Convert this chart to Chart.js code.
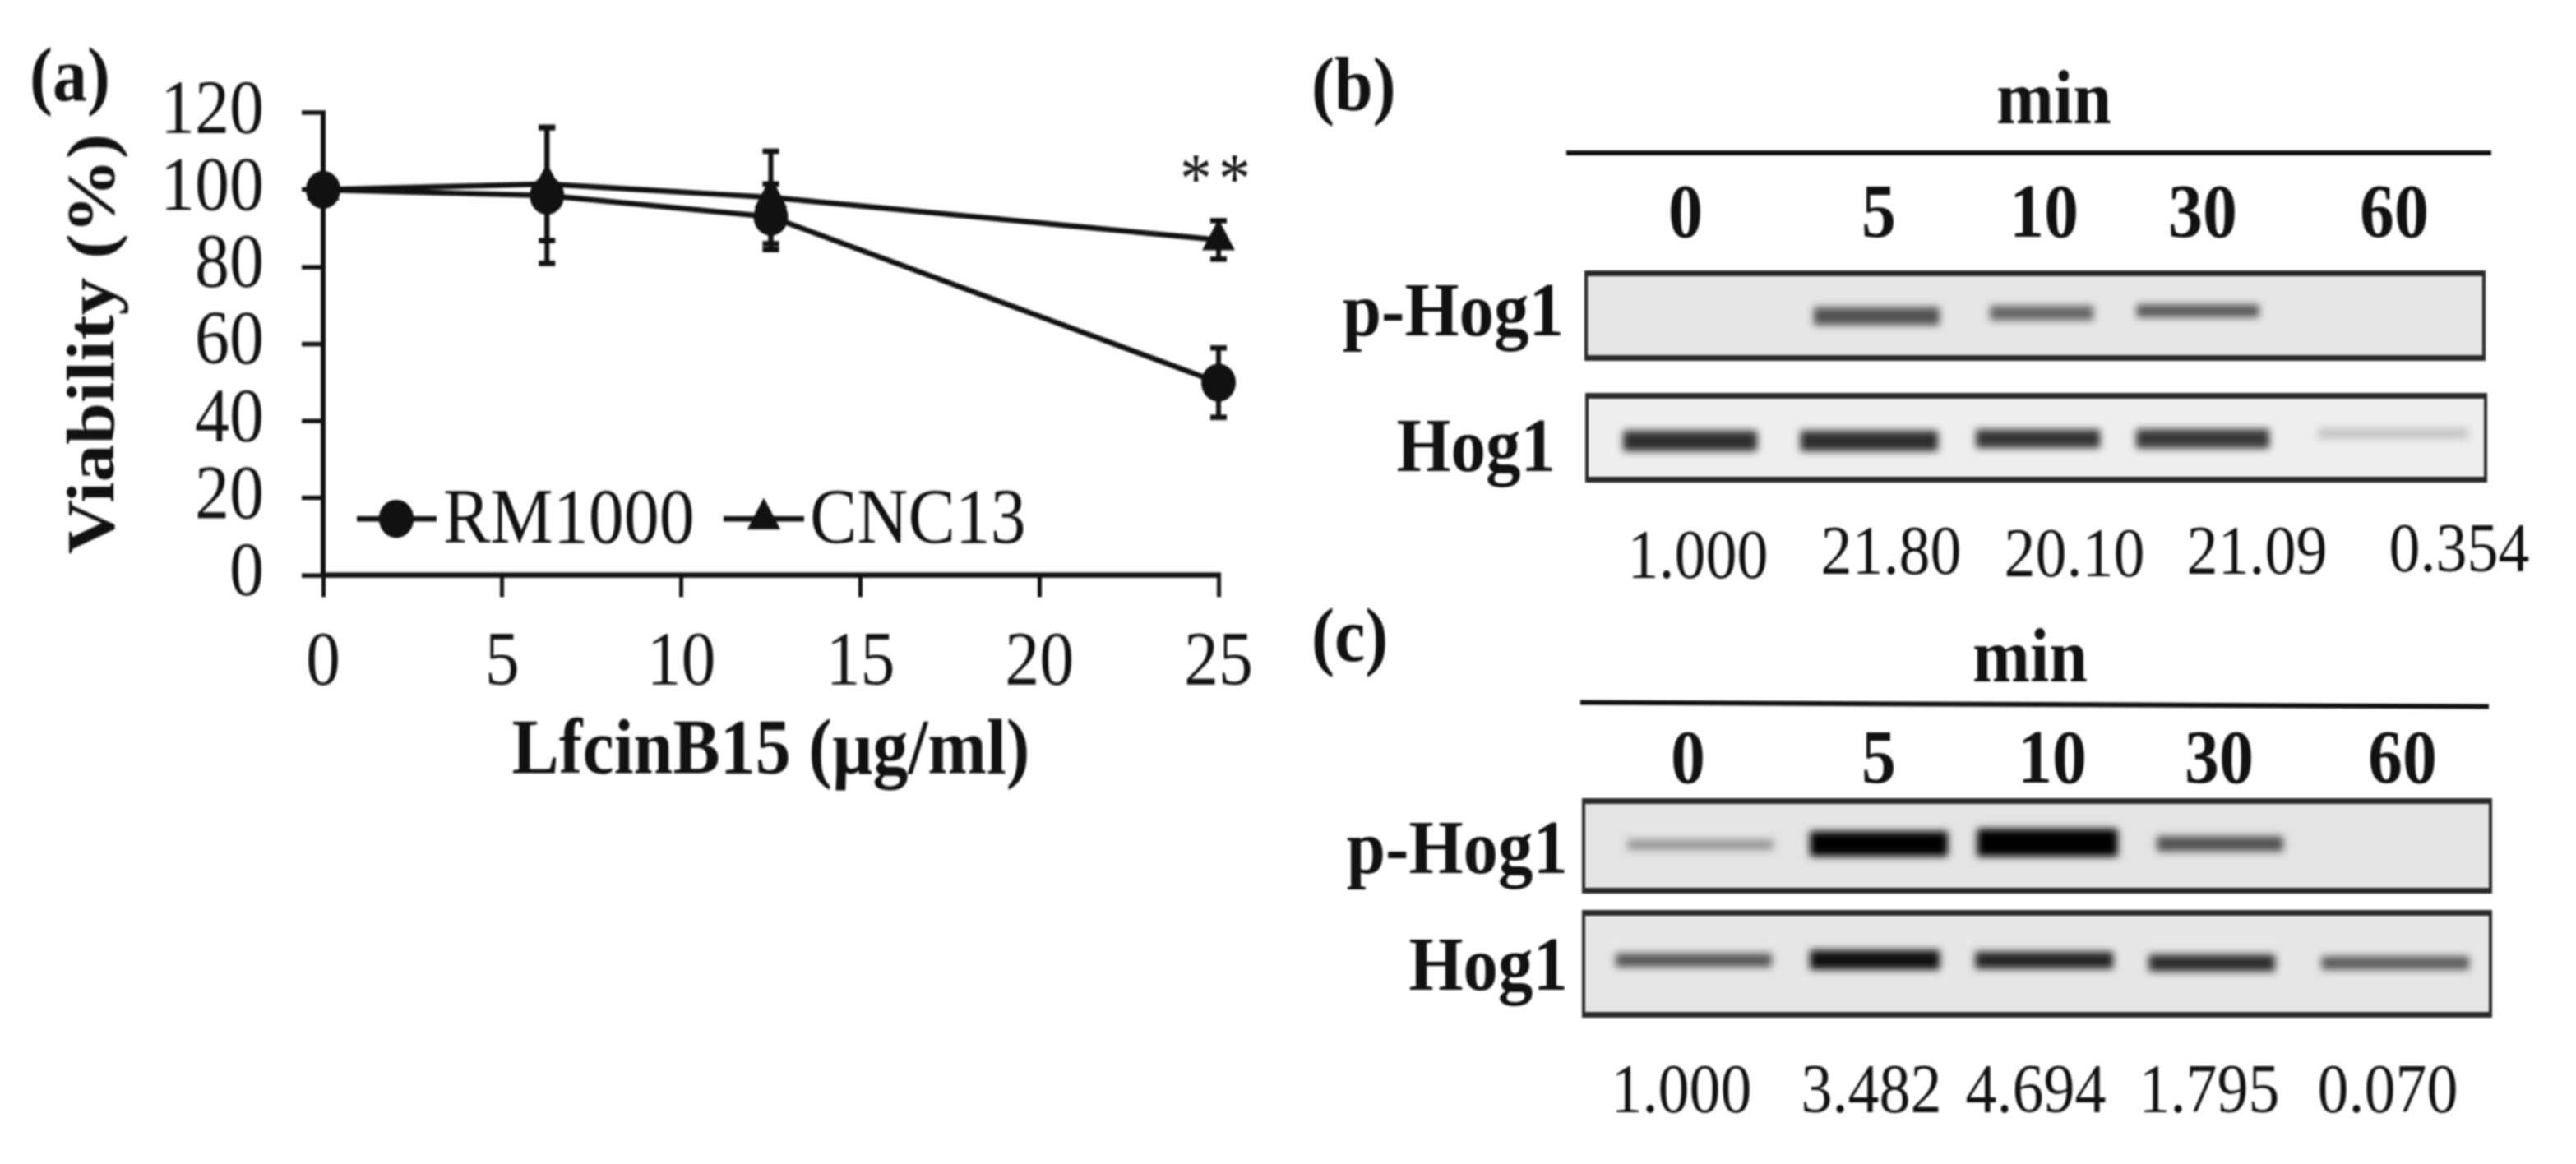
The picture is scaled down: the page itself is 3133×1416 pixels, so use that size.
<!DOCTYPE html>
<html>
<head>
<meta charset="utf-8">
<script src="https://cdn.jsdelivr.net/npm/chart.js@4"></script>
<style>
  html, body { margin: 0; background: #fff; }
  #page { position: relative; width: 3133px; height: 1416px; overflow: hidden; filter: blur(1.2px); }
  .txt { position: absolute; white-space: pre; font-family: "Liberation Serif", serif; color: #111; line-height: 1.149; }
  .rule { position: absolute; background: #111; height: 6px; }
  .blot { position: absolute; box-sizing: border-box; overflow: hidden; border: solid #2a2a2a; border-width: 7px 4px; }
  .blot canvas { display: block; filter: blur(5px); }
  #chartA { position: absolute; left: 0; top: 0; transform: scaleY(1.1); transform-origin: 0 0; }
</style>
</head>
<body>
<div id="page"><canvas id="chartA" width="1590" height="909"></canvas></div>
<script>
const FONT = '"Liberation Serif", serif';
const K = 1.1; // the original figure is stretched vertically

// panel (a)
const doses = [0, 6.25, 12.5, 25];
const rm1000 = [100, 98.5, 93, 50];
const rm1000Err = [1, 17.6, 8.5, 9];
const cnc13 = [100, 101.5, 98, 87];
const cnc13Err = [1, 14.7, 12, 5];

// blots: lane labels and densitometry ratios
const lanes = ['0', '5', '10', '30', '60'];
const ratiosB = ['1.000', '21.80', '20.10', '21.09', '0.354'];
const ratiosC = ['1.000', '3.482', '4.694', '1.795', '0.070'];

const b1Start = [25.3, 45, 61.4];
const b1End = [39.3, 56.5, 75];
const b1Y = [51, 45, 41];
const b1Grey = [80, 100, 85];

const b2Start = [3.9, 23.7, 43.3, 61.2, 81.5];
const b2End = [18.8, 39, 57.1, 76, 98.2];
const b2Y = [56, 56, 52, 52, 42];
const b2Grey = [45, 45, 50, 55, 195];

const c1Start = [4.7, 24.9, 43.4, 63.3];
const c1End = [20.8, 40.1, 58.9, 77.2];
const c1Y = [48, 46.3, 44.4, 46.3];
const c1Grey = [150, 0, 0, 80];

const c2Start = [3.4, 24.9, 43.2, 62.4, 81.5];
const c2End = [20.6, 39.2, 58.4, 76.3, 97.8];
const c2Y = [45.5, 45, 45.5, 49, 49];
const c2Grey = [85, 15, 35, 45, 90];

const page = document.getElementById('page');

function label(text, x, baseline, size, opts = {}) {
  const el = document.createElement('div');
  el.className = 'txt';
  el.textContent = text;
  el.style.fontSize = size + 'px';
  el.style.fontWeight = opts.bold ? 'bold' : 'normal';
  el.style.top = (baseline - 0.891 * size) + 'px';
  const align = opts.align || 'center';
  el.style.left = x + 'px';
  el.style.transformOrigin = '0 0.891em';
  const shift = align === 'center' ? 'translateX(-50%) ' : align === 'right' ? 'translateX(-100%) ' : '';
  el.style.transform = shift + 'scaleY(' + K + ')';
  page.appendChild(el);
}

const errorBars = {
  id: 'errorBars',
  beforeDatasetsDraw(chart) {
    const { ctx, scales: { x, y } } = chart;
    const sets = [[rm1000, rm1000Err], [cnc13, cnc13Err]];
    ctx.save();
    ctx.strokeStyle = '#111';
    ctx.lineWidth = 6;
    sets.forEach(([vals, errs]) => {
      doses.forEach((d, i) => {
        const px = x.getPixelForValue(d);
        const top = y.getPixelForValue(vals[i] + errs[i]);
        const bot = y.getPixelForValue(vals[i] - errs[i]);
        ctx.beginPath();
        ctx.moveTo(px, top); ctx.lineTo(px, bot);
        ctx.moveTo(px - 10, top); ctx.lineTo(px + 10, top);
        ctx.moveTo(px - 10, bot); ctx.lineTo(px + 10, bot);
        ctx.stroke();
      });
    });
    ctx.restore();
  },
};

const legendAndStars = {
  id: 'legendAndStars',
  afterDraw(chart) {
    const { ctx, scales: { x, y } } = chart;
    ctx.save();
    ctx.fillStyle = '#111';
    ctx.strokeStyle = '#111';
    ctx.textBaseline = 'alphabetic';
    ctx.textAlign = 'left';
    ctx.font = '86px ' + FONT;
    const rows = [
      { x0: 434, x1: 531, cx: 482, tx: 539, ds: chart.data.datasets[0] },
      { x0: 880, x1: 978, cx: 929, tx: 985, ds: chart.data.datasets[1] },
    ];
    rows.forEach((r) => {
      ctx.lineWidth = 6;
      ctx.beginPath();
      ctx.moveTo(r.x0, 631 / K); ctx.lineTo(r.x1, 631 / K);
      ctx.stroke();
      Chart.helpers.drawPoint(ctx, { pointStyle: r.ds.pointStyle, radius: r.ds.pointRadius, borderWidth: 0, rotation: 0 }, r.cx, 631 / K);
      ctx.fill();
      ctx.fillText(r.ds.label, r.tx, 660 / K);
    });
    ctx.textAlign = 'center';
    ctx.font = '78px ' + FONT;
    ctx.letterSpacing = '8px';
    ctx.fillText('**', x.getPixelForValue(25), y.getPixelForValue(97));
    ctx.letterSpacing = '0px';
    ctx.textAlign = 'left';
    ctx.font = 'bold 84px ' + FONT;
    ctx.fillText('(a)', 36, 122 / K);
    ctx.restore();
  },
};

new Chart(document.getElementById('chartA'), {
  type: 'line',
  data: {
    labels: doses,
    datasets: [
      { label: 'RM1000', data: doses.map((d, i) => ({ x: d, y: rm1000[i] })), borderColor: '#111', backgroundColor: '#111', borderWidth: 6, pointStyle: 'circle', pointRadius: 21, pointBorderWidth: 0, tension: 0, clip: false },
      { label: 'CNC13', data: doses.map((d, i) => ({ x: d, y: cnc13[i] })), borderColor: '#111', backgroundColor: '#111', borderWidth: 6, pointStyle: 'triangle', pointRadius: 23, pointBorderWidth: 0, tension: 0, clip: false },
    ],
  },
  options: {
    responsive: false,
    animation: false,
    layout: { padding: { top: 137 / K, right: 108, bottom: 0, left: 0 } },
    plugins: { legend: { display: false }, tooltip: { enabled: false } },
    scales: {
      x: {
        type: 'linear', min: 0, max: 25,
        afterFit: (s) => { s.height = 300 / K; },
        border: { color: '#111', width: 6 },
        grid: { drawOnChartArea: false, color: '#111', lineWidth: 5, tickLength: 24 },
        ticks: { stepSize: 5, color: '#111', padding: 24, maxRotation: 0, font: { family: FONT, size: 84 } },
        title: { display: true, text: 'LfcinB15 (µg/ml)', color: '#111', padding: { top: 0, bottom: 25 }, font: { family: FONT, size: 86, weight: 'bold' } },
      },
      y: {
        min: 0, max: 120,
        afterFit: (s) => { s.width = 393; },
        border: { color: '#111', width: 6 },
        grid: { drawOnChartArea: false, color: '#111', lineWidth: 5, tickLength: 26 },
        ticks: { stepSize: 20, autoSkip: false, color: '#111', padding: 46, font: { family: FONT, size: 84 } },
        title: { display: true, text: 'Viability (%)', color: '#111', padding: { top: 67, bottom: 0 }, font: { family: FONT, size: 83, weight: 'bold' } },
      },
    },
  },
  plugins: [errorBars, legendAndStars],
});

function blot(left, top, width, height, bg, starts, ends, ys, greys, thick) {
  const wrap = document.createElement('div');
  wrap.className = 'blot';
  wrap.style.cssText = `left:${left}px;top:${top}px;width:${width}px;height:${height}px;background:${bg}`;
  const cv = document.createElement('canvas');
  cv.width = width - 8;
  cv.height = height - 14;
  wrap.appendChild(cv);
  page.appendChild(wrap);
  new Chart(cv, {
    type: 'bar',
    data: {
      datasets: starts.map((s, i) => ({
        data: [{ x: [s, ends[i]], y: ys[i] }],
        backgroundColor: `rgb(${greys[i]},${greys[i]},${greys[i]})`,
        barThickness: thick[i],
        grouped: false,
      })),
    },
    options: {
      indexAxis: 'y',
      responsive: false,
      animation: false,
      plugins: { legend: { display: false }, tooltip: { enabled: false } },
      scales: {
        x: { type: 'linear', min: 0, max: 100, display: false },
        y: { type: 'linear', min: 0, max: 100, reverse: true, display: false },
      },
    },
  });
}

blot(1927, 329, 1096, 110, '#e6e6e6', b1Start, b1End, b1Y, b1Grey, [21, 17, 15]);
blot(1928, 478, 1097, 109, '#eeeeee', b2Start, b2End, b2Y, b2Grey, [24, 24, 22, 23, 12]);
blot(1924, 971, 1107, 116, '#e4e4e4', c1Start, c1End, c1Y, c1Grey, [12, 30, 33, 18]);
blot(1924, 1107, 1107, 131, '#e6e6e6', c2Start, c2End, c2Y, c2Grey, [16, 23, 20, 20, 16]);

// panel (b) text
label('(b)', 1595, 133, 84, { bold: true, align: 'left' });
label('min', 2498, 149, 84, { bold: true });
[2050, 2285, 2486, 2679, 2912].forEach((x, i) => label(lanes[i], x, 287, 84, { bold: true }));
label('p-Hog1', 1902, 407, 85, { bold: true, align: 'right' });
label('Hog1', 1892, 572, 85, { bold: true, align: 'right' });
[[2065, 702], [2300, 697], [2523, 700], [2745, 697], [2991, 694]].forEach(([x, y], i) => label(ratiosB[i], x, y, 76));

// panel (c) text
label('(c)', 1595, 803, 84, { bold: true, align: 'left' });
label('min', 2469, 828, 84, { bold: true });
[2053, 2285, 2496, 2699, 2922].forEach((x, i) => label(lanes[i], x, 951, 84, { bold: true }));
label('p-Hog1', 1907, 1061, 85, { bold: true, align: 'right' });
label('Hog1', 1907, 1203, 85, { bold: true, align: 'right' });
[2045, 2276, 2476, 2687, 2904].forEach((x, i) => label(ratiosC[i], x, 1352, 76));

// rules above the lane labels
function rule(left, top, width, angle) {
  const el = document.createElement('div');
  el.className = 'rule';
  el.style.cssText = `left:${left}px;top:${top}px;width:${width}px;transform:rotate(${angle}deg)`;
  page.appendChild(el);
}
rule(1905, 183, 1125, 0);
rule(1922, 854, 1105, 0.26);
</script>
</body>
</html>
